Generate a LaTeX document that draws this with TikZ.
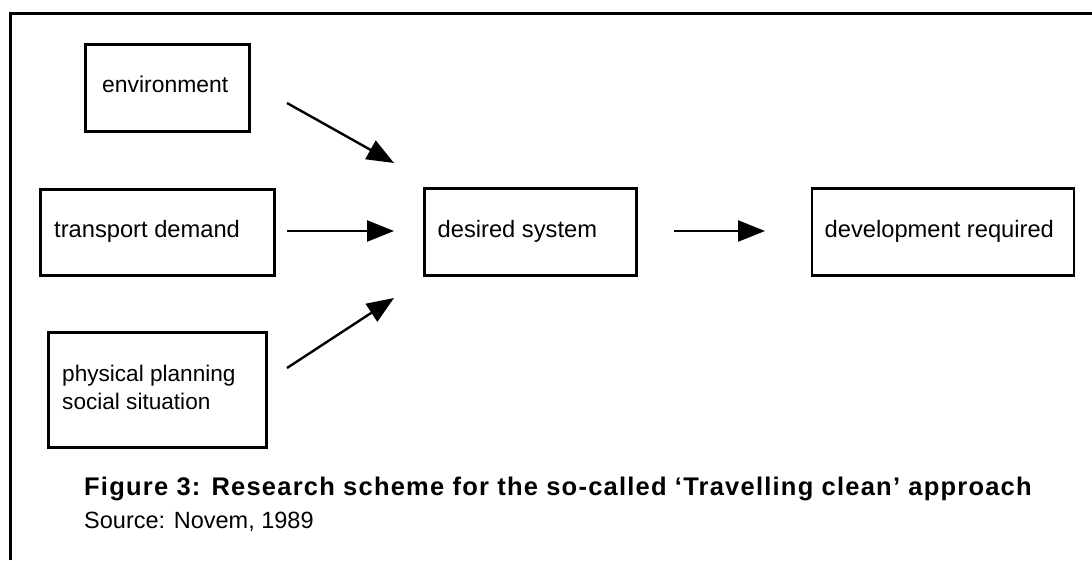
\documentclass[tikz,border=0pt]{standalone}
\usepackage{fontspec}
\setmainfont{Liberation Sans}
\newfontfamily\capfont[LetterSpace=4.8]{Liberation Sans}
\usetikzlibrary{arrows.meta}
\tikzset{
  box/.style={draw, line width=2.6pt, inner sep=0pt, anchor=north west},
  lbl/.style={anchor=base west, inner sep=0pt, font=\fontsize{23.7}{28}\selectfont},
  caplbl/.style={anchor=base west, inner sep=0pt, font=\capfont\bfseries\fontsize{25.5}{30}\selectfont},
  arr/.style={line width=2.4pt, -{Triangle[length=27pt,width=21pt]}},
  frame/.style={line width=3pt}
}
\begin{document}
\begin{tikzpicture}[x=1pt,y=-1pt]
\useasboundingbox (0,0) rectangle (1092,560);
% frame
\coordinate (fb) at (10.5,560);
\coordinate (ft) at (10.5,13);
\coordinate (fr) at (1092,13);
\draw[frame] (fb) -- (ft) -- (fr);
% boxes
\node[box, minimum width=164pt, minimum height=87pt] (env) at (84,43) {};
\node[box, minimum width=234pt, minimum height=86pt] (trans) at (39,188) {};
\node[box, minimum width=218pt, minimum height=115pt] (phys) at (47,331) {};
\node[box, minimum width=212pt, minimum height=87pt] (des) at (423,187) {};
\node[box, minimum width=262pt, minimum height=87pt] (dev) at (810.5,187) {};
% labels
\node[lbl, font=\fontsize{22.9}{28}\selectfont] (tenv) at (102,92) {environment};
\node[lbl] (ttrans) at (54,237) {transport demand};
\node[lbl, font=\fontsize{22.6}{28}\selectfont] (tphysa) at (62,381) {physical planning};
\node[lbl, font=\fontsize{22.6}{28}\selectfont] (tphysb) at (62,409) {social situation};
\node[lbl] (tdes) at (437.5,237) {desired system};
\node[lbl] (tdev) at (824.5,237) {development required};
\node[caplbl] (cap) at (84,495) {Figure 3: Research scheme for the so-called ‘Travelling clean’ approach};
\node[lbl, font=\fontsize{23.5}{28}\selectfont] (src) at (84,528) {Source: Novem, 1989};
% arrows
\coordinate (a1s) at (287,103);
\coordinate (a1e) at (394,163);
\coordinate (a2s) at (287,231);
\coordinate (a2e) at (394,231);
\coordinate (a3s) at (287,368);
\coordinate (a3e) at (394,298);
\coordinate (a4s) at (674,231);
\coordinate (a4e) at (765,231);
\draw[arr] (a1s) -- (a1e);
\draw[arr] (a2s) -- (a2e);
\draw[arr] (a3s) -- (a3e);
\draw[arr] (a4s) -- (a4e);
\end{tikzpicture}
\end{document}
